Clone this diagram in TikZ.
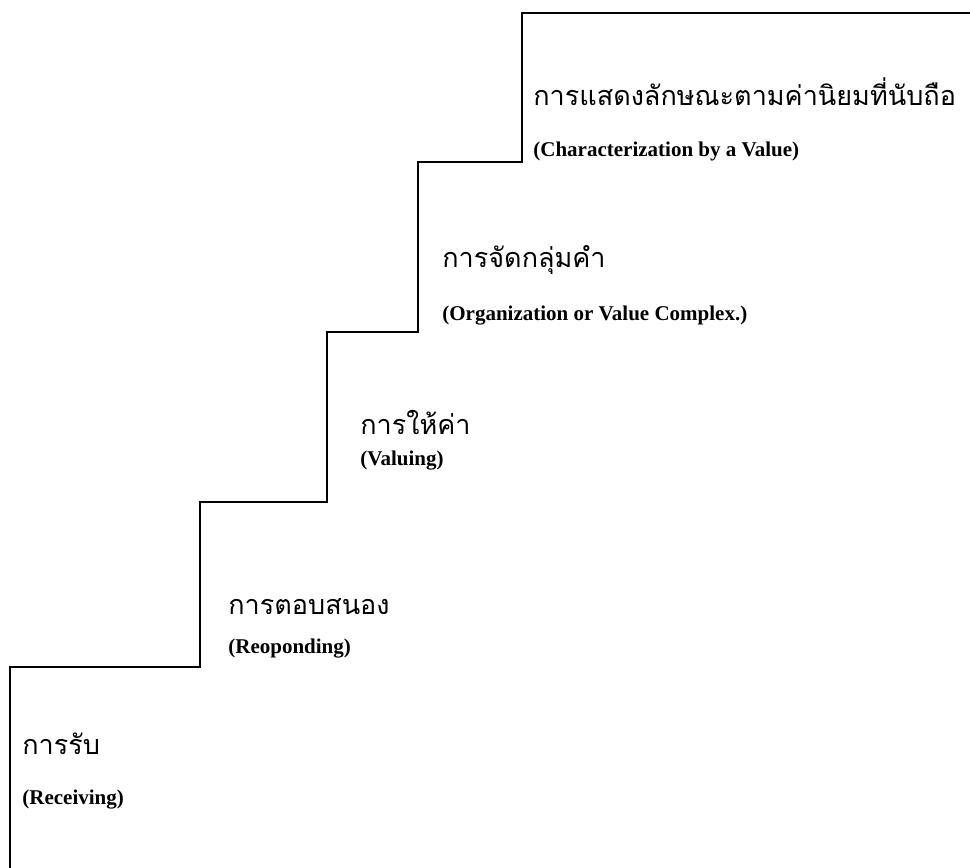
\documentclass[tikz,border=0pt]{standalone}
\usepackage{fontspec}
\setmainfont{Liberation Serif}
\newfontfamily\thaifont[Script=Thai]{Loma}
\begin{document}
\begin{tikzpicture}[
    x=0.5pt, y=-0.5pt,
    stair/.style={line width=1.3pt, line join=miter},
    thai/.style={anchor=base west, inner sep=0pt, font=\thaifont\fontsize{13.5}{15}\selectfont},
    eng/.style={anchor=base west, inner sep=0pt, font=\bfseries\fontsize{10.5}{12}\selectfont}
]
    \useasboundingbox (0,0) rectangle (970,868);

    % the staircase
    \draw[stair] (10,868) -- (10,667) -- (200,667) -- (200,502) -- (327,502)
        -- (327,332) -- (418,332) -- (418,162) -- (522,162) -- (522,13) -- (970,13);

    \node[thai] (recv) at (22,754) {การรับ};
    \node[eng] (recven) at (22,804) {(Receiving)};
    \node[thai] (resp) at (228,614) {การตอบสนอง};
    \node[eng] (respen) at (228,653) {(Reoponding)};
    \node[thai] (val) at (360,434) {การให้ค่า};
    \node[eng] (valen) at (360,465) {(Valuing)};
    \node[thai] (org) at (442,267) {การจัดกลุ่มคำ};
    \node[eng] (orgen) at (442,320) {(Organization or Value Complex.)};
    \node[thai] (char) at (533,105) {การแสดงลักษณะตามค่านิยมที่นับถือ};
    \node[eng] (charen) at (533,156) {(Characterization by a Value)};
\end{tikzpicture}
\end{document}
